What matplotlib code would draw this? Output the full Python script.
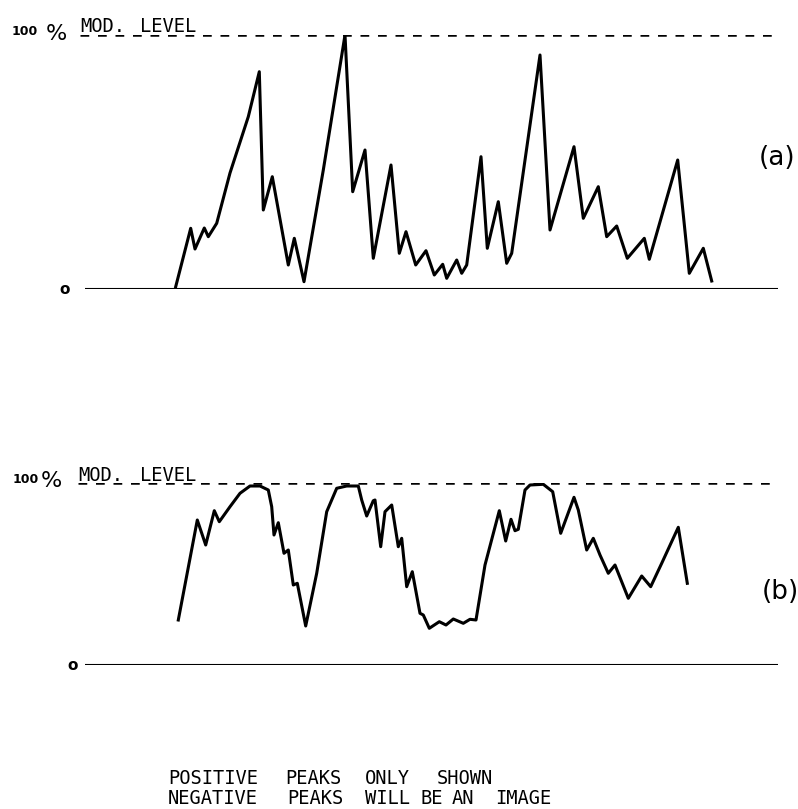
import matplotlib
matplotlib.use("Agg")
import matplotlib.pyplot as plt

# ---- data (x = time position, y = % modulation) ----
a_x = [175.7, 190.7, 195.0, 204.3, 208.3, 216.7, 230.0, 248.3, 259.3, 263.3, 272.3,
       288.3, 294.3, 304.0, 323.3, 345.0, 352.7, 365.0, 373.3, 391.0, 399.3, 406.0,
       415.7, 426.0, 434.3, 442.7, 446.7, 456.7, 461.7, 466.7, 481.0, 487.3, 498.3,
       506.7, 511.7, 540.0, 550.0, 574.0, 583.3, 598.3, 606.7, 616.7, 627.3, 644.3,
       649.3, 677.7, 689.3, 703.3, 711.7]
a_ypix = [286.7, 228.3, 249.0, 228.0, 236.7, 223.3, 173.0, 116.7, 71.7, 210.0, 176.7,
          265.0, 238.3, 281.7, 170.0, 35.0, 191.7, 150.0, 258.3, 165.0, 253.3, 231.7,
          265.0, 250.7, 275.0, 264.3, 278.3, 260.0, 273.3, 265.0, 156.7, 248.3, 201.7,
          263.3, 253.3, 55.0, 230.0, 146.7, 218.3, 186.7, 236.7, 226.0, 258.3, 238.3,
          259.3, 160.0, 273.3, 248.3, 281.0]
a_y = [(289 - v) / 254 * 100 for v in a_ypix]

b_x = [178.3, 197.3, 205.7, 214.3, 219.3, 230.0, 240.0, 250.0, 260.0, 268.3, 271.7,
       274.0, 278.3, 284.0, 288.3, 293.3, 297.3, 305.7, 316.7, 326.7, 336.7, 346.7,
       358.3, 361.7, 366.7, 373.3, 375.0, 380.7, 385.0, 391.7, 398.3, 401.7, 406.7,
       412.3, 420.0, 423.3, 429.3, 439.3, 446.0, 453.3, 463.3, 470.0, 476.0, 485.0,
       499.3, 505.7, 511.0, 515.0, 518.3, 525.0, 530.0, 543.3, 552.7, 560.7, 574.0,
       578.3, 586.7, 593.3, 600.0, 608.3, 615.0, 628.3, 641.7, 650.7, 661.7, 678.3,
       687.3]
b_ypix = [620.0, 520.0, 545.0, 510.7, 521.7, 506.7, 493.3, 486.0, 486.0, 490.0, 506.7,
          535.0, 522.7, 553.3, 550.0, 585.0, 583.3, 626.0, 573.3, 511.7, 488.3, 486.0,
          486.0, 500.0, 516.0, 500.7, 500.0, 546.7, 511.7, 505.0, 546.7, 538.3, 586.7,
          571.7, 613.3, 615.0, 628.3, 621.7, 625.0, 619.0, 623.3, 619.3, 620.0, 565.0,
          510.7, 541.0, 519.3, 530.7, 529.3, 490.0, 485.0, 484.3, 491.7, 533.3, 497.3,
          510.0, 550.0, 538.3, 555.0, 573.3, 565.0, 598.3, 576.0, 586.7, 563.3, 527.3,
          583.3]
b_y = [(665 - v) / 182 * 100 for v in b_ypix]

caption_line1 = ["POSITIVE", "PEAKS", "ONLY", "SHOWN"]
caption_line2 = ["NEGATIVE", "PEAKS", "WILL", "BE", "AN", "IMAGE"]
caption_x1 = [168, 285, 365, 437]
caption_x2 = [168, 287, 365, 420, 452, 495]

W, H = 798, 809
fig = plt.figure(figsize=(W / 100, H / 100), dpi=100)


def make_ax(y0pix, y100pix):
    b = (H - y0pix) / H
    h = (y0pix - y100pix) / H
    ax = fig.add_axes([0, b, 1, h])
    ax.set_xlim(0, W)
    ax.set_ylim(0, 100)
    ax.axis("off")
    return ax


SANS = "DejaVu Sans"
MONO = "DejaVu Sans Mono"


def panel(ax, xs, ys, tag, lab_x, pct_x, mod_x, lev_x, o_x, tag_x, tag_y):
    ax.plot([85, 778], [0, 0], color="black", lw=1.5, solid_capstyle="butt")
    ax.plot([mod_x, 778], [100, 100], color="black", lw=1.8,
            ls=(0, (3.5, 3.5)), dash_capstyle="butt")
    ax.plot(xs, ys, color="black", lw=2.2, solid_joinstyle="round")
    ax.text(lab_x, 100, "100", fontsize=9, family=SANS, ha="left",
            va="baseline", clip_on=False, fontweight="bold")
    ax.text(pct_x, 98, "%", fontsize=16, family=SANS, ha="left",
            va="baseline", clip_on=False)
    ax.text(mod_x, 101, "MOD.", fontsize=13.5, family=MONO, ha="left",
            va="baseline", clip_on=False)
    ax.text(lev_x, 101, "LEVEL", fontsize=13.5, family=MONO, ha="left",
            va="baseline", clip_on=False)
    ax.text(o_x, 0, "o", fontsize=11, family=SANS, ha="center", va="center",
            clip_on=False, fontweight="bold")
    ax.text(tag_x, tag_y, tag, fontsize=19, family=SANS, ha="center",
            va="center", clip_on=False)


ax1 = make_ax(289, 35)
panel(ax1, a_x, a_y, "(a)", 12, 46, 80, 140, 65, 777, (289 - 158) / 254 * 100)

ax2 = make_ax(665, 483)
panel(ax2, b_x, b_y, "(b)", 13, 41, 78, 140, 73, 780, (665 - 592) / 182 * 100)

for words, xs, ycen in [(caption_line1, caption_x1, 778),
                        (caption_line2, caption_x2, 799)]:
    for w, x in zip(words, xs):
        fig.text(x / W, 1 - ycen / H, w, fontsize=13.5, family=MONO,
                 ha="left", va="center")

fig.savefig("out.png", dpi=100)
